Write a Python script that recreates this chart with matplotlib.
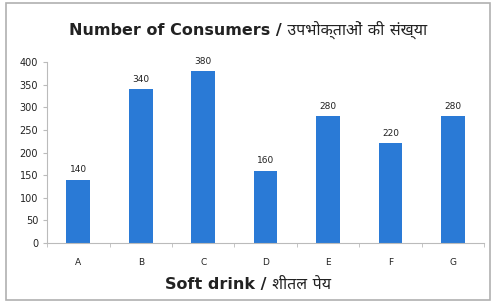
import matplotlib
matplotlib.use("Agg")
import matplotlib.pyplot as plt
from matplotlib.patches import Rectangle
from matplotlib.ticker import FixedLocator

categories = ["A", "B", "C", "D", "E", "F", "G"]
values = [140, 340, 380, 160, 280, 220, 280]
yticks = [0, 50, 100, 150, 200, 250, 300, 350, 400]
title = "Number of Consumers / उपभोक्ताओं की संख्या"
xlabel = "Soft drink / शीतल पेय"

plt.rcParams['font.family'] = ['DejaVu Sans', 'Noto Sans', 'Noto Sans CJK SC']

fig = plt.figure(figsize=(4.96, 3.02), dpi=100)
fig.patches.append(Rectangle((0.012, 0.008), 0.976, 0.982, transform=fig.transFigure,
                             fill=False, edgecolor="#b0b0b0", linewidth=1.2))
ax = fig.add_axes([0.095, 0.195, 0.881, 0.6])
x = list(range(len(categories)))
bars = ax.bar(x, values, width=0.38, color="#2a7ad6")
for xi, v in zip(x, values):
    ax.text(xi, v + 12, str(v), ha="center", va="bottom", fontsize=6.5, color="#222222")

ax.set_xlim(-0.5, len(categories) - 0.5)
ax.set_ylim(0, 400)
ax.set_yticks(yticks)
ax.set_xticks(x)
ax.set_xticklabels(categories)
ax.xaxis.set_minor_locator(FixedLocator([i - 0.5 for i in range(len(categories) + 1)]))
ax.tick_params(axis="x", which="major", length=0, labelsize=6.5, pad=11, colors="#222222")
ax.tick_params(axis="x", which="minor", length=3, color="#bbbbbb", direction="out")
ax.tick_params(axis="y", length=3, color="#bbbbbb", labelsize=7, labelcolor="#222222")
for s in ["top", "right"]:
    ax.spines[s].set_visible(False)
ax.spines["left"].set_color("#bbbbbb")
ax.spines["bottom"].set_color("#bbbbbb")

fig.text(0.5, 0.9, title, ha="center", va="center", fontsize=11.5, fontweight="bold", color="#222222")
fig.text(0.5, 0.058, xlabel, ha="center", va="center", fontsize=11.5, fontweight="bold", color="#222222")

fig.savefig("out.png", dpi=100)
